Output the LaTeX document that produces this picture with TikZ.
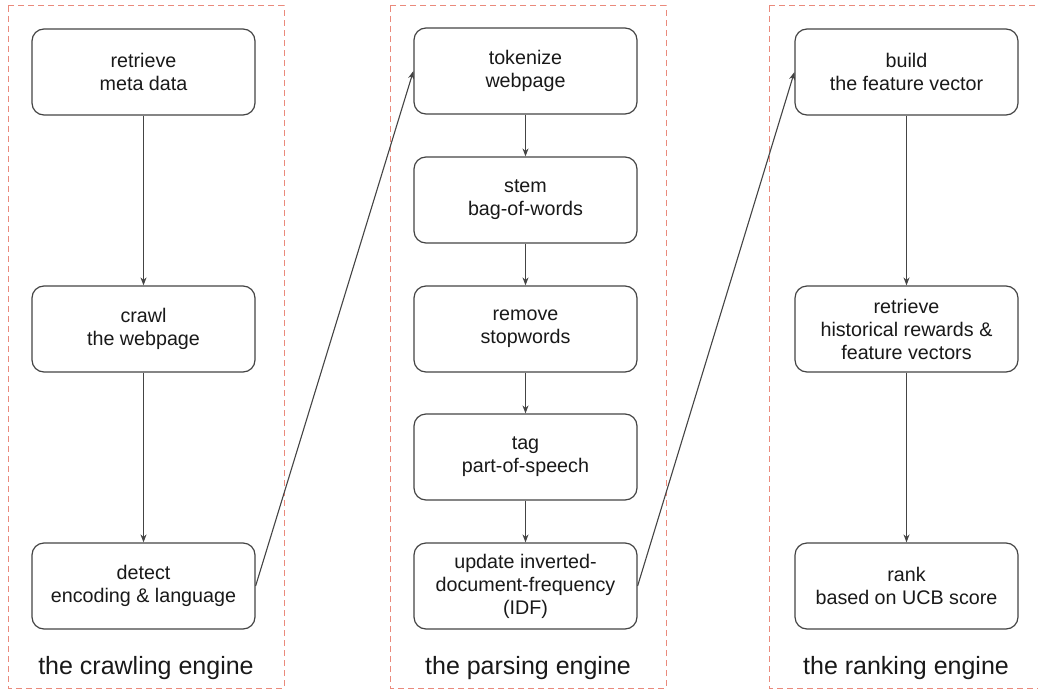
\documentclass[tikz,border=0pt]{standalone}
\usepackage{fontspec}
\setmainfont{Liberation Sans}
\usetikzlibrary{arrows.meta}
\definecolor{boxline}{HTML}{444444}
\definecolor{framecol}{HTML}{EA8A7C}
\begin{document}
\begin{tikzpicture}[x=1pt,y=-1pt,
  stepbox/.style={draw=boxline,line width=1.2pt,rounded corners=12pt,minimum width=223pt,minimum height=86pt,align=center,inner sep=2pt,font=\fontsize{19.7}{23}\selectfont,text=black!90},
  frame/.style={draw=framecol,line width=1pt,dash pattern=on 6pt off 4pt},
  enginelabel/.style={font=\fontsize{25}{30}\selectfont,text=black!90},
  conn/.style={draw=boxline,line width=1.1pt,-{Stealth[length=8pt,width=6pt]}}]
\useasboundingbox (0,0) rectangle (1038,690);
\clip (0,0) rectangle (1038,690);
\fill[white] (0,0) rectangle (1038,690);
% frames
\draw[frame] (8,6) rectangle (284,688);
\draw[frame] (390,6) rectangle (666,688);
\draw[frame] (769,6) rectangle (1050,688);
% left column
\node[stepbox] (meta) at (143.5,72) {retrieve\\meta data};
\node[stepbox] (crawl) at (143.5,329) {crawl\\the webpage};
\node[stepbox] (detect) at (143.5,586) {detect\\encoding \& language};
% middle column
\node[stepbox] (token) at (525.5,71) {tokenize\\webpage};
\node[stepbox] (stem) at (525.5,200) {stem\\bag-of-words};
\node[stepbox] (stop) at (525.5,329) {remove\\stopwords};
\node[stepbox] (tag) at (525.5,457) {tag\\part-of-speech};
\node[stepbox] (idf) at (525.5,586) {update inverted-\\document-frequency\\(IDF)};
% right column
\node[stepbox] (build) at (906.5,72) {build\\the feature vector};
\node[stepbox] (hist) at (906.5,329) {retrieve\\historical rewards \&\\feature vectors};
\node[stepbox] (rank) at (906.5,586) {rank\\based on UCB score};
% labels
\node[enginelabel] (l1) at (146,668) {the crawling engine};
\node[enginelabel] (l2) at (528,668) {the parsing engine};
\node[enginelabel] (l3) at (906,668) {the ranking engine};
% connectors
\draw[conn] (meta) -- (crawl);
\draw[conn] (crawl) -- (detect);
\draw[conn] (token) -- (stem);
\draw[conn] (stem) -- (stop);
\draw[conn] (stop) -- (tag);
\draw[conn] (tag) -- (idf);
\draw[conn] (build) -- (hist);
\draw[conn] (hist) -- (rank);
\draw[conn] (detect.east) -- (token.west);
\draw[conn] (idf.east) -- (build.west);
\end{tikzpicture}
\end{document}
